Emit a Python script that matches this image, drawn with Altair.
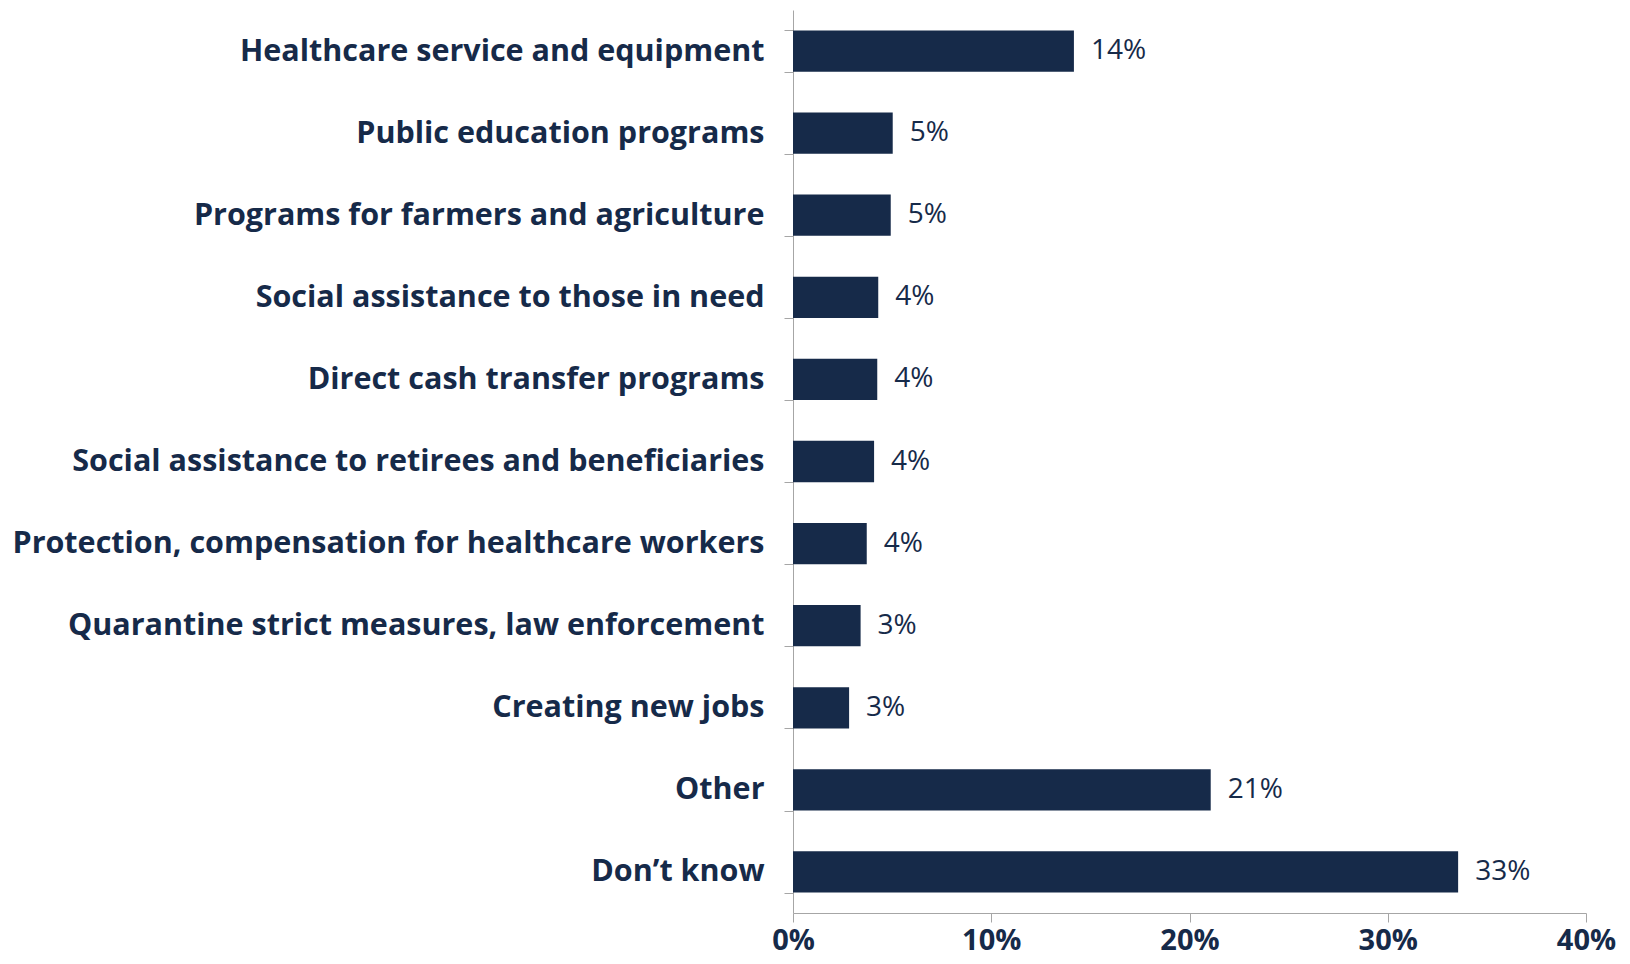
import altair as alt
import pandas as pd

categories = [
    "Healthcare service and equipment",
    "Public education programs",
    "Programs for farmers and agriculture",
    "Social assistance to those in need",
    "Direct cash transfer programs",
    "Social assistance to retirees and beneficiaries",
    "Protection, compensation for healthcare workers",
    "Quarantine strict measures, law enforcement",
    "Creating new jobs",
    "Other",
    "Don\u2019t know",
]
values = [14.17, 5.03, 4.93, 4.3, 4.25, 4.09, 3.72, 3.41, 2.83, 21.07, 33.55]
labels = ["14%", "5%", "5%", "4%", "4%", "4%", "4%", "3%", "3%", "21%", "33%"]
x_ticks = [0, 10, 20, 30, 40]

df = pd.DataFrame({"cat": categories, "val": values, "lab": labels})

NAVY = "#162a49"
FONT = "Open Sans"

y = alt.Y(
    "cat:N",
    sort=categories,
    title=None,
    scale=alt.Scale(paddingInner=0.497, paddingOuter=0.2485),
    axis=alt.Axis(
        tickBand="extent",
        domainColor="#a6a6a6",
        tickColor="#a6a6a6",
        tickSize=9,
        labelPadding=20,
        labelFont=FONT,
        labelFontWeight="bold",
        labelFontSize=30.5,
        labelColor=NAVY,
        labelLimit=0,
    ),
)
x = alt.X(
    "val:Q",
    title=None,
    scale=alt.Scale(domain=[0, 40], nice=False),
    axis=alt.Axis(
        values=x_ticks,
        labelExpr="datum.value + '%'",
        domainColor="#a6a6a6",
        tickColor="#a6a6a6",
        tickSize=9,
        labelPadding=4,
        labelFont=FONT,
        labelFontWeight="bold",
        labelFontSize=29,
        labelColor=NAVY,
        grid=False,
        labelFlush=False,
    ),
)

bars = alt.Chart(df).mark_bar(color=NAVY).encode(x=x, y=y)
text = alt.Chart(df).mark_text(
    align="left", baseline="middle", dx=17, font=FONT, fontSize=28, color=NAVY
).encode(x="val:Q", y=alt.Y("cat:N", sort=categories), text="lab:N")

chart = (
    (bars + text)
    .properties(
        width=793,
        height=903,
        autosize=alt.AutoSizeParams(type="none"),
        padding={"left": 785, "top": 2, "right": 30, "bottom": 43},
    )
    .configure(background="white")
    .configure_view(strokeWidth=0, stroke=None)
)

chart.save("out.html", embed_options={"renderer": "svg", "actions": False})
